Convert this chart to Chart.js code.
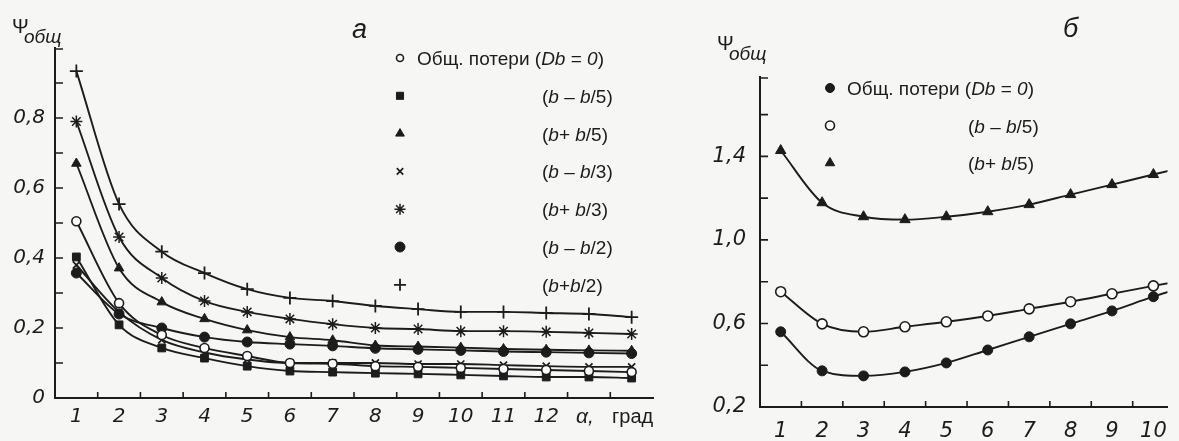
<!DOCTYPE html>
<html>
<head>
<meta charset="utf-8">
<script src="https://cdn.jsdelivr.net/npm/chart.js@4.4.1/dist/chart.umd.min.js"></script>
<style>
  html, body { margin: 0; padding: 0; background: #f6f6f4; }
  #wrap { position: relative; width: 1179px; height: 441px; overflow: hidden; }
  #ca { position: absolute; left: 0; top: 0; }
  #cb { position: absolute; left: 700px; top: 0; }
</style>
</head>
<body>
<div id="wrap">
  <canvas id="ca" width="700" height="441" style="width:700px;height:441px"></canvas>
  <canvas id="cb" width="479" height="441" style="width:479px;height:441px"></canvas>
</div>
<script>
// panel a: alpha, deg
const alphaA = [1, 2, 3, 4, 5, 6, 7, 8, 9, 10, 11, 12, 13, 14];
const psiDb0    = [0.505, 0.271, 0.180, 0.143, 0.120, 0.100, 0.098, 0.091, 0.089, 0.086, 0.083, 0.080, 0.077, 0.074];
const psiMinus5 = [0.403, 0.209, 0.143, 0.114, 0.091, 0.077, 0.074, 0.071, 0.069, 0.066, 0.063, 0.060, 0.060, 0.057];
const psiPlus5  = [0.670, 0.371, 0.274, 0.226, 0.194, 0.174, 0.165, 0.150, 0.147, 0.144, 0.140, 0.138, 0.136, 0.135];
const psiMinus3 = [0.380, 0.246, 0.166, 0.130, 0.110, 0.100, 0.100, 0.100, 0.097, 0.097, 0.094, 0.091, 0.089, 0.089];
const psiPlus3  = [0.790, 0.460, 0.343, 0.277, 0.246, 0.226, 0.211, 0.200, 0.197, 0.191, 0.191, 0.189, 0.186, 0.183];
const psiMinus2 = [0.357, 0.240, 0.200, 0.174, 0.160, 0.154, 0.149, 0.142, 0.139, 0.136, 0.133, 0.131, 0.129, 0.127];
const psiPlus2  = [0.934, 0.554, 0.418, 0.357, 0.311, 0.286, 0.277, 0.263, 0.254, 0.246, 0.246, 0.243, 0.240, 0.231];
const xLabelsA = [1, 2, 3, 4, 5, 6, 7, 8, 9, 10, 11, 12];
const xMinorA = [1.5, 2.5, 3.5, 4.5, 5.5, 6.5, 7.5, 8.5, 9.5, 10.5, 11.5, 12.5, 13.5];
const yLabelsA = [0, 0.2, 0.4, 0.6, 0.8];
const yMinorA = [0.1, 0.2, 0.3, 0.4, 0.5, 0.6, 0.7, 0.8, 0.9];

// panel б
const alphaB = [1, 2, 3, 4, 5, 6, 7, 8, 9, 10, 11];
const psiB_Db0    = [0.560, 0.373, 0.349, 0.368, 0.411, 0.473, 0.536, 0.598, 0.660, 0.728, 0.790];
const psiB_Minus5 = [0.752, 0.598, 0.560, 0.584, 0.608, 0.636, 0.670, 0.704, 0.742, 0.780, 0.815];
const psiB_Plus5  = [1.428, 1.178, 1.111, 1.097, 1.111, 1.135, 1.169, 1.217, 1.265, 1.313, 1.360];
const xLabelsB = [1, 2, 3, 4, 5, 6, 7, 8, 9, 10];
const xMinorB = [1.5, 2.5, 3.5, 4.5, 5.5, 6.5, 7.5, 8.5, 9.5];
const yLabelsB = [0.2, 0.6, 1.0, 1.4];
const yMinorB = [0.4, 0.6, 0.8, 1.0, 1.2, 1.4, 1.6];

const INK = '#1c1c1c';
const SANS = '"Liberation Sans", Arial, sans-serif';
const TICKFONT = '"DejaVu Sans", sans-serif';

function series(label, xs, ys, style, r, bg, bw, lr) {
  return {
    label: label,
    data: ys.map((v, i) => ({ x: xs[i], y: v })),
    borderColor: INK,
    borderWidth: 1.9,
    pointStyle: style,
    pointRadius: r,
    pointBackgroundColor: bg,
    pointBorderColor: INK,
    pointBorderWidth: bw,
    legendRadius: lr
  };
}

function drawRich(ctx, str, x, y, size) {
  str.split('_').forEach((p, i) => {
    ctx.font = (i % 2 ? 'italic ' : '') + size + 'px ' + SANS;
    ctx.fillText(p, x, y);
    x += ctx.measureText(p).width;
  });
}

function fmt(v) {
  return v === 0 ? '0' : v.toFixed(1).replace('.', ',');
}

function makeDecor(cfg) {
  return {
    id: 'decor',
    afterDraw(chart) {
      const ctx = chart.ctx;
      const xs = chart.scales.x, ys = chart.scales.y;
      ctx.save();
      ctx.strokeStyle = INK;
      ctx.fillStyle = INK;
      ctx.lineWidth = 1.6;
      ctx.beginPath();
      cfg.xMinor.forEach(v => {
        const px = xs.getPixelForValue(v);
        ctx.moveTo(px, ys.bottom);
        ctx.lineTo(px, ys.bottom - 6);
      });
      cfg.yMinor.forEach(v => {
        const py = ys.getPixelForValue(v);
        ctx.moveTo(xs.left, py);
        ctx.lineTo(xs.left + 8, py);
      });
      // bracket at the top of the y axis
      ctx.moveTo(xs.left, ys.top + 1);
      ctx.lineTo(xs.left + 8, ys.top + 1);
      ctx.stroke();

      ctx.textAlign = 'left';
      ctx.textBaseline = 'alphabetic';
      // y title
      ctx.font = '20px ' + SANS;
      ctx.fillText('Ψ', cfg.psi[0], cfg.psi[1]);
      ctx.font = 'italic 19px ' + SANS;
      ctx.fillText('общ', cfg.psi[0] + 12, cfg.psi[1] + 10);
      // panel letter
      ctx.font = 'italic 27px ' + SANS;
      ctx.fillText(cfg.letter, cfg.letterPos[0], cfg.letterPos[1]);
      // x title
      if (cfg.xTitle) {
        ctx.font = 'italic 21px ' + SANS;
        ctx.fillText('α,', cfg.xTitle[0], cfg.xTitle[1]);
        ctx.font = '20px ' + SANS;
        ctx.fillText('град', cfg.xTitle[0] + 36, cfg.xTitle[1]);
      }
      // legend
      const ds = chart.data.datasets;
      cfg.legendOrder.forEach((k, i) => {
        const d = ds[k];
        const y = cfg.legend.y0 + i * cfg.legend.dy;
        ctx.save();
        ctx.fillStyle = d.pointBackgroundColor;
        ctx.strokeStyle = INK;
        ctx.lineWidth = d.pointBorderWidth;
        Chart.helpers.drawPoint(ctx, {
          pointStyle: d.pointStyle, radius: d.legendRadius, rotation: 0, borderWidth: d.pointBorderWidth
        }, cfg.legend.mx, y);
        ctx.restore();
        ctx.fillStyle = INK;
        drawRich(ctx, d.label, i === 0 ? cfg.legend.tx0 : cfg.legend.tx, y + 7, 19);
      });
      ctx.restore();
    }
  };
}

function makeChart(id, cfg) {
  return new Chart(document.getElementById(id), {
    type: 'line',
    data: { datasets: cfg.datasets },
    options: {
      responsive: false,
      animation: false,
      layout: { padding: cfg.padding },
      elements: {
        line: { tension: 0.4, cubicInterpolationMode: 'monotone', fill: false }
      },
      plugins: { legend: { display: false }, tooltip: { enabled: false } },
      scales: {
        x: {
          type: 'linear',
          min: cfg.xMin,
          max: cfg.xMax,
          afterBuildTicks: s => { s.ticks = cfg.xLabels.map(v => ({ value: v })); },
          afterFit: s => { s.height = cfg.xHeight; },
          grid: { display: false, drawTicks: false },
          border: { display: true, color: INK, width: 2 },
          ticks: {
            color: INK, padding: cfg.xPad, autoSkip: false, maxRotation: 0,
            font: { family: TICKFONT, size: cfg.tickSize, style: 'italic' },
            callback: v => String(v)
          }
        },
        y: {
          type: 'linear',
          min: cfg.yMin,
          max: cfg.yMax,
          afterBuildTicks: s => { s.ticks = cfg.yLabels.map(v => ({ value: v })); },
          afterFit: s => { s.width = cfg.yWidth; },
          grid: { display: false, drawTicks: false },
          border: { display: true, color: INK, width: 2 },
          ticks: {
            color: INK, padding: cfg.yPad,
            font: { family: TICKFONT, size: cfg.tickSize, style: 'italic' },
            callback: v => fmt(v)
          }
        }
      }
    },
    plugins: [makeDecor(cfg.decor)]
  });
}

makeChart('ca', {
  datasets: [
    series('Общ. потери (_Db_ = _0_)', alphaA, psiDb0, 'circle', 4.5, '#ffffff', 1.6, 3.5),
    series('(_b_ – _b_/5)', alphaA, psiMinus5, 'rect', 5.5, INK, 1, 5),
    series('(_b_+ _b_/5)', alphaA, psiPlus5, 'triangle', 5.5, INK, 1, 5),
    series('(_b_ – _b_/3)', alphaA, psiMinus3, 'crossRot', 5, INK, 1.7, 4.5),
    series('(_b_+ _b_/3)', alphaA, psiPlus3, 'star', 6, INK, 1.5, 5.5),
    series('(_b_ – _b_/2)', alphaA, psiMinus2, 'circle', 5, INK, 1, 5),
    series('(_b_+_b_/2)', alphaA, psiPlus2, 'cross', 6.5, INK, 1.8, 6)
  ],
  padding: { left: 0, right: 47, top: 48, bottom: 0 },
  xMin: 0.5, xMax: 14.5, xLabels: xLabelsA, xHeight: 43, xPad: 7,
  yMin: 0, yMax: 1.0, yLabels: yLabelsA, yWidth: 55, yPad: 10,
  tickSize: 20,
  decor: {
    xMinor: xMinorA, yMinor: yMinorA,
    psi: [12, 33], letter: 'а', letterPos: [352, 38],
    xTitle: [576, 423],
    legendOrder: [0, 1, 2, 3, 4, 5, 6],
    legend: { mx: 400, tx0: 417, tx: 542, y0: 58, dy: 37.8 }
  }
});

makeChart('cb', {
  datasets: [
    series('Общ. потери (_Db_ = _0_)', alphaB, psiB_Db0, 'circle', 5, INK, 1, 4.5),
    series('(_b_ – _b_/5)', alphaB, psiB_Minus5, 'circle', 5, '#ffffff', 1.6, 4.5),
    series('(_b_+ _b_/5)', alphaB, psiB_Plus5, 'triangle', 6, INK, 1, 5.5)
  ],
  padding: { left: 0, right: 0, top: 77, bottom: 0 },
  xMin: 0.5, xMax: 10.34, xLabels: xLabelsB, xHeight: 34, xPad: 12,
  yMin: 0.2, yMax: 1.78, yLabels: yLabelsB, yWidth: 60, yPad: 14,
  tickSize: 21,
  decor: {
    xMinor: xMinorB, yMinor: yMinorB,
    psi: [17, 50], letter: 'б', letterPos: [363, 37],
    xTitle: null,
    legendOrder: [0, 1, 2],
    legend: { mx: 130, tx0: 147, tx: 268, y0: 88, dy: 37.5 }
  }
});
</script>
</body>
</html>
